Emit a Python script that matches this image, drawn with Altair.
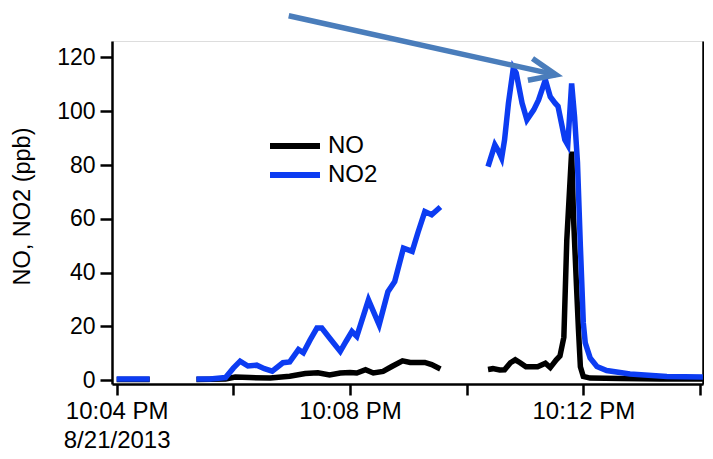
import altair as alt
import pandas as pd

# Time axis: minutes after 10:00 PM on 8/21/2013
START_MIN = 4.0  # 10:04 PM

# NO2 (blue) — seconds after 10:04:00 PM, ppb, segment id
NO2_SEC = [0, 12, 24, 34,
           82, 96, 112, 120, 127, 135, 144, 152, 160, 171, 178, 187, 192, 199, 206, 211,
           219, 230, 236, 242, 247, 259, 270, 279, 286, 295, 304, 310, 317, 324, 333,
           382, 389, 393, 396, 399, 403, 408, 411, 417, 422, 429, 434, 441, 446, 451,
           454, 461, 464, 468, 471, 474, 477, 480, 482, 487, 494, 504, 528, 566, 603]
NO2_PPB = [0.5, 0.5, 0.5, 0.5,
           0.5, 0.5, 1.0, 4.5, 7.1, 5.3, 5.6, 4.3, 3.4, 6.5, 6.8, 11.4, 10.2, 15.0, 19.4, 19.4,
           15.7, 10.7, 14.5, 18.1, 16.3, 29.9, 20.6, 32.9, 36.7, 49.1, 47.9, 55.0, 62.7, 61.5, 64.4,
           79.4, 87.5, 85.0, 82.6, 89.3, 103.0, 116.0, 114.2, 103.0, 96.8, 100.5, 104.2, 111.7, 105.4, 103.0,
           101.8, 89.4, 87.5, 110.3, 98.0, 81.0, 49.7, 21.3, 13.9, 8.3, 5.1, 3.6, 2.3, 1.4, 1.2]
NO2_SEG = [1] * 4 + [2] * 31 + [3] * 30

# NO (black)
NO_SEC = [0, 34,
          82, 112, 122, 137, 158, 178, 194, 207, 219, 230, 240, 247, 256, 264, 274, 283,
          294, 302, 317, 324, 333,
          382, 387, 394, 399, 405, 410, 415, 421, 433, 441, 446, 452, 456, 460, 463, 468,
          470, 473, 475, 477, 480, 487, 518, 559, 603]
NO_PPB = [0.3, 0.3,
          0.3, 0.5, 1.2, 1.0, 0.8, 1.5, 2.5, 2.8, 2.0, 2.7, 2.9, 2.7, 3.9, 2.7, 3.3, 5.1,
          7.2, 6.6, 6.6, 5.8, 4.2,
          4.0, 4.3, 3.8, 3.9, 6.5, 7.6, 6.5, 5.0, 5.0, 6.3, 4.7, 7.5, 9.0, 16.0, 52.0, 85.0,
          60.0, 35.0, 19.0, 5.0, 1.4, 0.8, 0.6, 0.5, 0.5]
NO_SEG = [1] * 2 + [2] * 21 + [3] * 25

SERIES = ["NO", "NO2"]
COLORS = ["#000000", "#0c3cf2"]

# arrow annotation (seconds after 10:04, ppb)
ARROW_SEC = [177, 452]
ARROW_PPB = [135.5, 113.5]

Y_DOMAIN = [-1.4, 126.1]
Y_TICKS = [0, 20, 40, 60, 80, 100, 120]
X_DOMAIN = [3.92, 14.052]
X_TICKS = [4, 6, 8, 10, 12, 14]
X_LABELS = {4: ["10:04 PM", "8/21/2013"], 8: "10:08 PM", 12: "10:12 PM"}


def frame(name, secs, vals, segs):
    return pd.DataFrame({"minute": [START_MIN + s / 60.0 for s in secs],
                         "ppb": vals, "seg": segs, "series": name})


no_df = frame("NO", NO_SEC, NO_PPB, NO_SEG)
no2_df = frame("NO2", NO2_SEC, NO2_PPB, NO2_SEG)
arrow_df = pd.DataFrame({"t0": [START_MIN + ARROW_SEC[0] / 60.0], "v0": [ARROW_PPB[0]],
                         "t1": [START_MIN + ARROW_SEC[1] / 60.0], "v1": [ARROW_PPB[1]]})


def label_expr(labels):
    parts = []
    for k, v in labels.items():
        if isinstance(v, list):
            txt = "[" + ", ".join("'" + s + "'" for s in v) + "]"
        else:
            txt = "'" + v + "'"
        parts.append(f"abs(datum.value - {k}) < 0.01 ? {txt} : ")
    return "".join(parts) + "''"


FONT = "Liberation Sans"
x_scale = alt.Scale(domain=X_DOMAIN, nice=False, zero=False)
y_scale = alt.Scale(domain=Y_DOMAIN, nice=False, zero=False)

x_axis = alt.Axis(values=X_TICKS, grid=False, domainColor="black", domainWidth=2.5,
                  tickColor="black", tickWidth=2.5, tickSize=11, labelFont=FONT,
                  labelFontSize=24, labelColor="black", labelPadding=4, labelLineHeight=29,
                  labelExpr=label_expr(X_LABELS), title=None, labelFlush=False,
                  labelOverlap=False, labelBaseline="top")
y_left = alt.Axis(values=Y_TICKS, grid=False, domainColor="black", domainWidth=2.5,
                  tickColor="black", tickWidth=2.5, tickSize=12, labelFont=FONT,
                  labelFontSize=23, labelColor="black", labelPadding=5,
                  title="NO, NO2 (ppb)", titleFont=FONT, titleFontSize=23.5, titleFontWeight="normal",
                  titleColor="black", titleX=-83, titleY=165, titleBaseline="alphabetic")
y_right = alt.Axis(orient="right", values=Y_TICKS, grid=False, domainColor="black", domainWidth=2.5,
                   tickColor="black", tickWidth=2.5, tickSize=9, labels=False, title=None)

color_scale = alt.Scale(domain=SERIES, range=COLORS)
legend = alt.Legend(orient="none", legendX=170, legendY=92, title=None,
                    symbolType="M-2.5,0H2.5", symbolSize=400, symbolStrokeWidth=6,
                    labelFont=FONT, labelFontSize=24, labelColor="black", labelOffset=20,
                    padding=0, rowPadding=4)

no_line = alt.Chart(no_df).mark_line(strokeWidth=5.5).encode(
    x=alt.X("minute:Q", scale=x_scale, axis=x_axis),
    y=alt.Y("ppb:Q", scale=y_scale, axis=y_left),
    color=alt.Color("series:N", scale=color_scale, legend=legend),
    detail="seg:N",
)
no2_line = alt.Chart(no2_df).mark_line(strokeWidth=5.5).encode(
    x=alt.X("minute:Q", scale=x_scale, axis=x_axis),
    y=alt.Y("ppb:Q", scale=y_scale, axis=y_right),
    color=alt.Color("series:N", scale=color_scale, legend=legend),
    detail="seg:N",
)
arrow_shaft = alt.Chart(arrow_df).mark_rule(strokeWidth=5.5, color="#4a7dbb").encode(
    x=alt.X("t0:Q", scale=x_scale, axis=x_axis),
    y=alt.Y("v0:Q", scale=y_scale, axis=None),
    x2="t1:Q",
    y2="v1:Q",
)
arrow_head = alt.Chart(arrow_df).mark_point(
    shape="M-1,-0.42L0,0L-1,0.42", size=2800, angle=12, filled=False,
    strokeWidth=5.5, color="#4a7dbb", opacity=1, strokeJoin="miter",
).encode(
    x=alt.X("t1:Q", scale=x_scale, axis=x_axis),
    y=alt.Y("v1:Q", scale=y_scale, axis=None),
)

chart = (
    alt.layer(no_line, no2_line, arrow_shaft, arrow_head)
    .resolve_axis(y="independent")
    .properties(width=591, height=343,
                autosize=alt.AutoSizeParams(type="none"),
                padding={"left": 104, "top": 33, "right": 1, "bottom": 67})
    .configure_view(stroke=None)
    .configure(background="white")
)

chart.save("out.html", embed_options={"renderer": "svg", "actions": False})
